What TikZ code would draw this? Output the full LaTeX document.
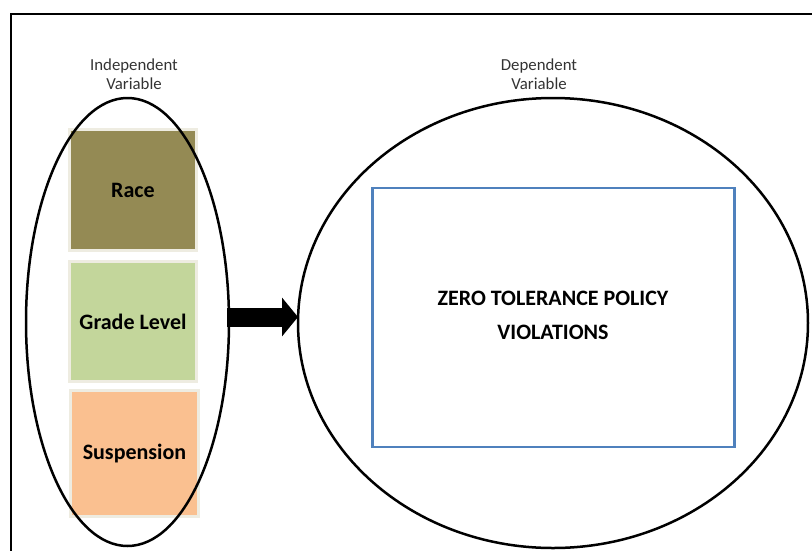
\documentclass[tikz,border=0pt]{standalone}
\usepackage{fontspec}
\setmainfont{Carlito}
\usetikzlibrary{shapes.geometric,arrows.meta}
\definecolor{raceC}{HTML}{948A54}
\definecolor{gradeC}{HTML}{C3D69B}
\definecolor{suspC}{HTML}{FAC090}
\definecolor{creamC}{HTML}{EEECE1}
\definecolor{blueC}{HTML}{4F81BD}
\begin{document}
\begin{tikzpicture}[x=1pt,y=-1pt,
  varbox/.style={draw=creamC, line width=3pt, inner sep=0pt, font=\fontsize{22}{26}\selectfont\bfseries, text=black},
  oval/.style={ellipse, draw=black, line width=2.5pt, inner sep=0pt, outer sep=0pt},
  caption/.style={align=center, font=\fontsize{16.8}{19}\selectfont, text=black!80}]
\useasboundingbox (0,0) rectangle (812,550);
\draw[line width=2pt] (11,552) -- (11,14) -- (814,14);
% boxes
\node[varbox, fill=raceC, minimum width=127pt, minimum height=121pt] (race) at (133,190) {Race};
\node[varbox, fill=gradeC, minimum width=127pt, minimum height=120pt] (grade) at (133,321.5) {Grade Level};
\node[varbox, fill=suspC, minimum width=128pt, minimum height=126pt] (susp) at (134.5,453.5) {Suspension};
% ellipses
\node[oval, minimum width=203pt, minimum height=448pt] (indep) at (127.5,322) {};
\node[oval, minimum width=510pt, minimum height=450pt] (dep) at (553,323) {};
% dependent box
\node[draw=blueC, line width=2.5pt, minimum width=362pt, minimum height=259pt, inner sep=0pt] (dv) at (553.5,317.5) {};
\node[font=\fontsize{22}{34}\selectfont\bfseries, align=center] (dvtext) at (553,315) {ZERO TOLERANCE POLICY\\VIOLATIONS};
% captions
\node[caption] (indepcap) at (134,74) {Independent\\Variable};
\node[caption] (depcap) at (539,74) {Dependent\\Variable};
% arrow
\draw[line width=19pt, -{Triangle[length=16pt,width=38pt]}] ([xshift=-2pt,yshift=5pt]indep.east) -- ([yshift=6pt]dep.west);
\end{tikzpicture}
\end{document}
